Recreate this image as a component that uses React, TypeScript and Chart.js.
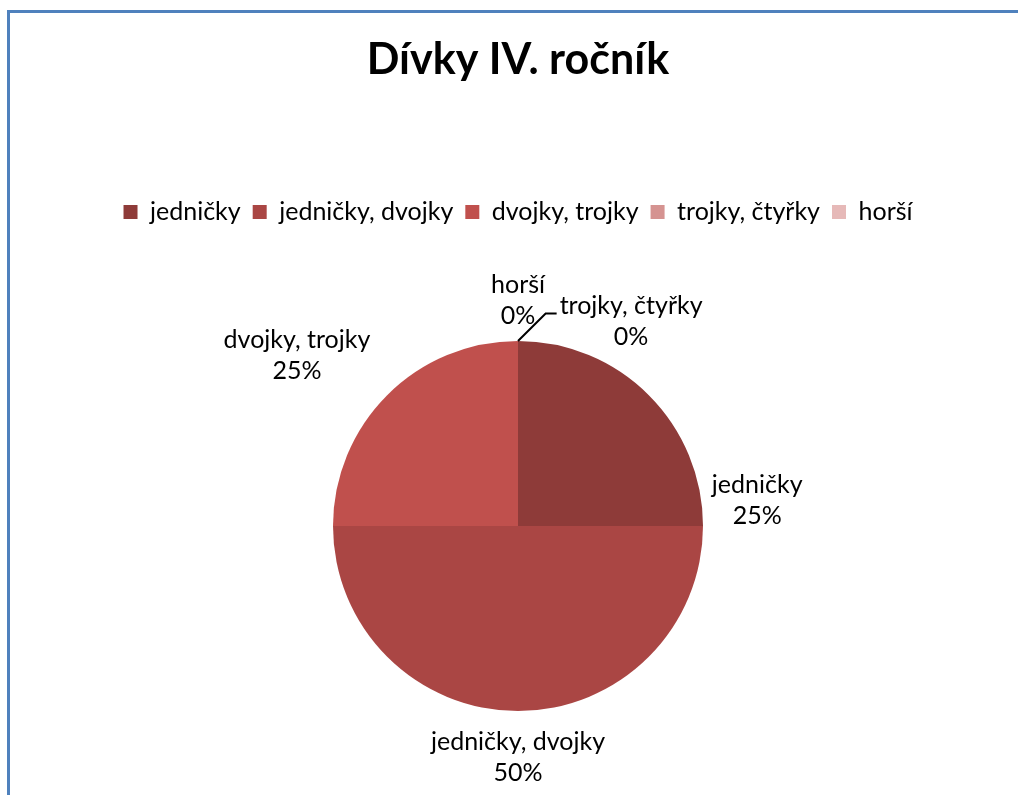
import React, { useEffect, useRef } from "react";
import { Chart, registerables } from "chart.js";

Chart.register(...registerables);

const titleText = "Dívky IV. ročník";
const categories = ["jedničky", "jedničky, dvojky", "dvojky, trojky", "trojky, čtyřky", "horší"];
const values = [25, 50, 25, 0, 0];
const colors = ["#8E3B39", "#AA4644", "#C0504D", "#D59391", "#E6B9B8"];

// data label placement, polar relative to the pie centre (deg, multiples of radius)
const labelAngles = [-6, 90, -142.3, -61.1, -90];
const labelDists = [1.3, 1.25, 1.51, 1.265, 1.22];
const leaderLines = [false, false, false, true, false];

const FONT = "Lato, 'Noto Sans', sans-serif";

const outLabels = {
  id: "outLabels",
  afterDatasetsDraw(chart: any) {
    const meta = chart.getDatasetMeta(0);
    const ctx = chart.ctx;
    const total = values.reduce((a, b) => a + b, 0);
    ctx.save();
    ctx.font = `25px ${FONT}`;
    ctx.fillStyle = "#000";
    ctx.textAlign = "center";
    ctx.textBaseline = "middle";
    const lh = 31;
    meta.data.forEach((arc: any, i: number) => {
      const { x, y, outerRadius, startAngle, endAngle } = arc.getProps(
        ["x", "y", "outerRadius", "startAngle", "endAngle"],
        true
      );
      const a = (labelAngles[i] * Math.PI) / 180;
      const cx = x + Math.cos(a) * outerRadius * labelDists[i];
      const cy = y + Math.sin(a) * outerRadius * labelDists[i];
      const pct = Math.round((values[i] / total) * 100) + "%";
      ctx.fillText(categories[i], cx, cy - lh / 2);
      ctx.fillText(pct, cx, cy + lh / 2);
      if (leaderLines[i]) {
        const w = ctx.measureText(categories[i]).width;
        const left = cx - w / 2;
        const ly = cy - lh / 2 + 8;
        const mid = (startAngle + endAngle) / 2;
        ctx.beginPath();
        ctx.moveTo(x + Math.cos(mid) * outerRadius, y + Math.sin(mid) * outerRadius);
        ctx.lineTo(left - 14, ly);
        ctx.lineTo(left - 3, ly);
        ctx.strokeStyle = "#000";
        ctx.lineWidth = 2;
        ctx.stroke();
      }
    });
    ctx.restore();
  },
};

export default function App() {
  const ref = useRef<HTMLCanvasElement | null>(null);
  useEffect(() => {
    if (!ref.current) return;
    const chart = new Chart(ref.current, {
      type: "pie",
      data: {
        labels: categories,
        datasets: [
          {
            data: values,
            backgroundColor: colors,
            borderWidth: 0,
          },
        ],
      },
      options: {
        responsive: false,
        maintainAspectRatio: false,
        devicePixelRatio: 1,
        animation: false,
        layout: { padding: { top: 10, left: 18, right: 0, bottom: 84 } },
        plugins: {
          title: {
            display: true,
            text: titleText,
            color: "#000",
            font: { family: FONT, size: 43, weight: "bold", lineHeight: 1.2 },
            padding: { top: 24, bottom: 102 },
          },
          legend: {
            display: true,
            position: "top",
            labels: {
              color: "#000",
              font: { family: FONT, size: 25 },
              boxWidth: 14,
              boxHeight: 14,
              padding: 12,
            },
          },
          subtitle: {
            display: true,
            text: " ",
            weight: 500,
            font: { size: 10, lineHeight: 1.2 },
            padding: { top: 94.4, bottom: 0 },
          } as any,
          tooltip: { enabled: false },
        },
      },
      plugins: [outLabels],
    });
    return () => chart.destroy();
  }, []);

  return (
    <div>
      <div
        style={{
          position: "fixed",
          left: 7,
          top: 10,
          width: 1011,
          height: 785,
          boxSizing: "border-box",
          borderTop: "3px solid #4F81BD",
          borderLeft: "3px solid #4F81BD",
        }}
      />
      <canvas
        ref={ref}
        width={1018}
        height={795}
        style={{ position: "fixed", left: 0, top: 0, display: "block" }}
      />
    </div>
  );
}
